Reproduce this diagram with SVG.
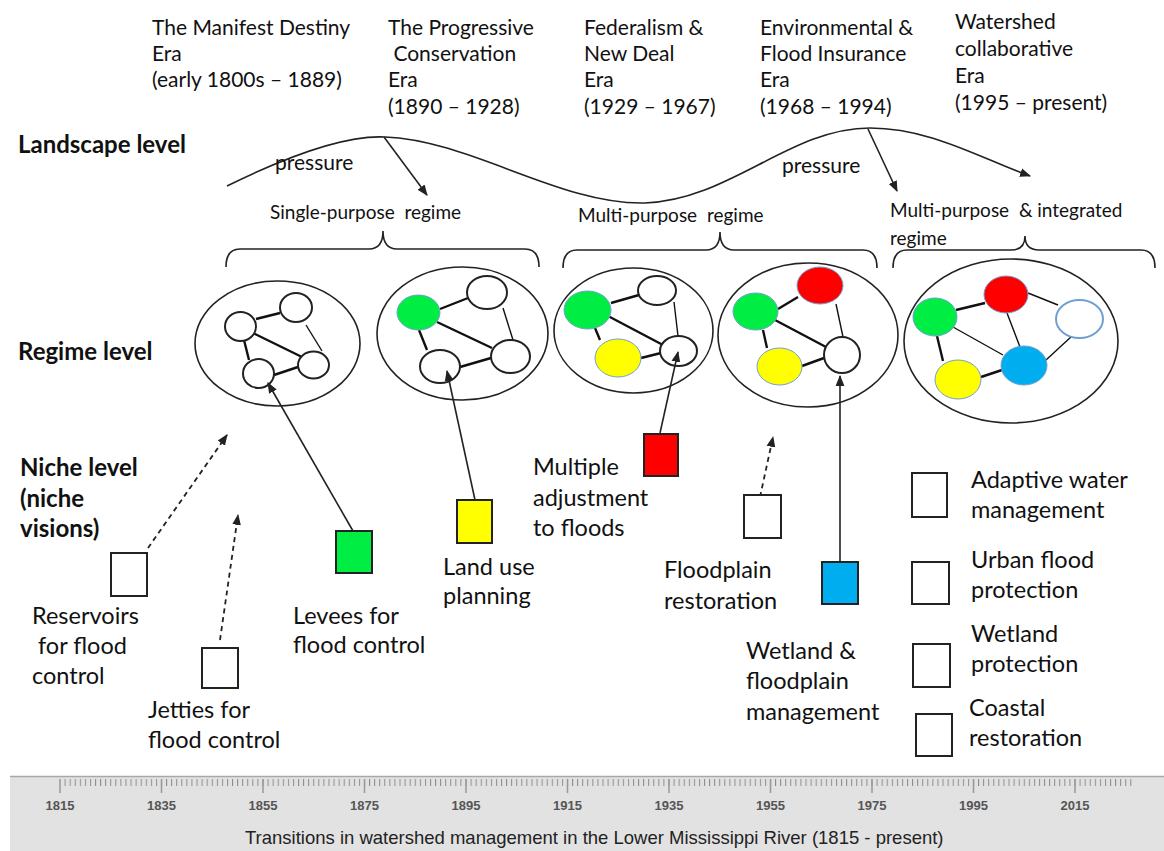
<svg xmlns="http://www.w3.org/2000/svg" width="1164" height="851" viewBox="0 0 1164 851">
<style>
.t{font-family:Lato,"Open Sans",sans-serif;font-size:21px;fill:#111}
.lv{font-family:Lato,"Open Sans",sans-serif;font-size:24px;font-weight:bold;fill:#111}
.nl{font-family:Lato,"Open Sans",sans-serif;font-size:23.5px;fill:#111}
.rg{font-family:Lato,"Open Sans",sans-serif;font-size:19px;fill:#111}
.el{fill:none;stroke:#222;stroke-width:1.6}
.cw{fill:#fff;stroke:#222;stroke-width:2}
.cc{stroke:#6f9fd0;stroke-width:1}
.ln{stroke:#111;stroke-width:2.4;fill:none}
.lt{stroke:#111;stroke-width:1.4;fill:none}
.bx{stroke:#222;stroke-width:2}
.ar{stroke:#222;stroke-width:1.6;fill:none}
.ds{stroke:#222;stroke-width:1.8;fill:none;stroke-dasharray:5 4}
.br{stroke:#222;stroke-width:1.6;fill:none}
.yr{font-family:"Liberation Sans",Arial,sans-serif;font-size:13px;font-weight:bold;fill:#555;text-anchor:middle}
</style>
<defs>
<marker id="ah" viewBox="0 0 10 10" refX="9" refY="5" markerWidth="11" markerHeight="11" markerUnits="userSpaceOnUse" orient="auto"><path d="M0,1 L10,5 L0,9 z" fill="#222"/></marker>
<pattern id="tk" x="59.5" y="0" width="5.075" height="20" patternUnits="userSpaceOnUse"><rect x="0" y="0" width="1" height="20" fill="#8c8c8c"/></pattern>
</defs>

<g id="eras">
<text class="t" x="152" y="35">The Manifest Destiny</text>
<text class="t" x="152" y="61">Era</text>
<text class="t" x="152" y="87">(early 1800s – 1889)</text>
<text class="t" x="388" y="35">The Progressive</text>
<text class="t" x="388" y="61">&#160;Conservation</text>
<text class="t" x="388" y="87">Era</text>
<text class="t" x="388" y="114">(1890 – 1928)</text>
<text class="t" x="584" y="35">Federalism &amp;</text>
<text class="t" x="584" y="61">New Deal</text>
<text class="t" x="584" y="87">Era</text>
<text class="t" x="584" y="114">(1929 – 1967)</text>
<text class="t" x="760" y="35">Environmental &amp;</text>
<text class="t" x="760" y="61">Flood Insurance</text>
<text class="t" x="760" y="87">Era</text>
<text class="t" x="760" y="114">(1968 – 1994)</text>
<text class="t" x="955" y="29">Watershed</text>
<text class="t" x="955" y="56">collaborative</text>
<text class="t" x="955" y="83">Era</text>
<text class="t" x="955" y="110">(1995 – present)</text>
</g>

<g id="levels">
<text class="lv" x="18" y="153">Landscape level</text>
<text class="lv" x="18" y="360">Regime level</text>
<text class="lv" x="20" y="476">Niche level</text>
<text class="lv" x="20" y="507">(niche</text>
<text class="lv" x="20" y="537">visions)</text>
</g>

<g id="landscape">
<path class="ar" d="M227,186 C290,155 345,135 385,137 C470,140 560,205 645,203 C730,200 790,128 870,128 C930,128 980,158 1030,176" marker-end="url(#ah)"/>
<text class="t" x="275" y="170">pressure</text>
<text class="t" x="782" y="173">pressure</text>
</g>

<g id="regime-labels">
<text class="rg" x="270" y="219">Single-purpose&#160; regime</text>
<text class="rg" x="578" y="222">Multi-purpose&#160; regime</text>
<text class="rg" x="890" y="217">Multi-purpose&#160; &amp; integrated</text>
<text class="rg" x="890" y="245">regime</text>
</g>

<g id="brackets">
<path class="br" d="M226,267 Q226,249 240,249 L369,249 Q383,249 383,231 Q383,249 397,249 L525,249 Q539,249 539,267"/>
<path class="br" d="M563,268 Q563,250 577,250 L706,250 Q720,250 720,232 Q720,250 734,250 L863,250 Q877,250 877,268"/>
<path class="br" d="M893,268 Q893,250 907,250 L1011,250 Q1025,250 1025,236 Q1025,250 1039,250 L1141,250 Q1155,250 1155,268"/>
</g>

<g id="regime1">
<ellipse class="el" cx="277.5" cy="343.5" rx="82.5" ry="62.5"/>
<path class="ln" d="M256,319 L280,313 M253,333 L302,357 M244,340 L249,360 M274,375 L298,367"/>
<path class="lt" d="M306,325 L322,351"/>
<ellipse class="cw" cx="240.5" cy="326.5" rx="15.5" ry="14.5"/>
<ellipse class="cw" cx="296" cy="307.5" rx="16" ry="14.5"/>
<ellipse class="cw" cx="258.5" cy="373.5" rx="15.5" ry="14.5"/>
<ellipse class="cw" cx="313.5" cy="365" rx="15.5" ry="13.5"/>
</g>

<g id="regime2">
<ellipse class="el" cx="462.5" cy="333.5" rx="85.5" ry="66.5"/>
<path class="ln" d="M440,309 L468,298 M437,322 L492,348 M419,330 L427,350 M460,367 L491,358"/>
<path class="lt" d="M503,308 L513,340"/>
<ellipse class="cc" fill="#00ee44" cx="418.5" cy="312.5" rx="21.5" ry="17.5"/>
<ellipse class="cw" cx="487" cy="292.5" rx="20" ry="16.5"/>
<ellipse class="cw" cx="510.5" cy="356.5" rx="19.5" ry="16.5"/>
<ellipse class="cw" cx="440" cy="366.5" rx="20" ry="16.5"/>
</g>

<g id="regime3">
<ellipse class="el" cx="633.5" cy="330.5" rx="79.5" ry="62.5"/>
<path class="ln" d="M611,303 L639,295 M608,316 L663,345 M595,328 L600,340 M641,358 L661,353"/>
<path class="lt" d="M674,302 L678,336"/>
<ellipse class="cc" fill="#00ee44" cx="587.5" cy="310" rx="23.5" ry="19"/>
<ellipse class="cw" cx="657" cy="290.5" rx="19" ry="14.5"/>
<ellipse class="cc" fill="#ffff00" cx="618" cy="358" rx="23" ry="19"/>
<ellipse class="cw" cx="678.5" cy="351" rx="18.5" ry="15"/>
</g>

<g id="regime4">
<ellipse class="el" cx="808" cy="335" rx="90" ry="72"/>
<path class="ln" d="M778,309 L798,297 M775,320 L826,347 M763,330 L767,348 M802,366 L824,358"/>
<path class="lt" d="M836,304 L843,337"/>
<ellipse class="cc" fill="#ff0000" cx="820" cy="285.5" rx="23" ry="18.5"/>
<ellipse class="cc" fill="#00ee44" cx="755.5" cy="311.5" rx="22.5" ry="18.5"/>
<ellipse class="cc" fill="#ffff00" cx="779.5" cy="366.5" rx="22.5" ry="18.5"/>
<ellipse class="cw" cx="842" cy="355" rx="18" ry="18"/>
</g>

<g id="regime5">
<ellipse class="el" cx="1011" cy="341" rx="107" ry="82"/>
<path class="ln" d="M956,310 L985,303 M937,336 L943,361 M981,377 L1002,370"/>
<path class="lt" d="M1028,293 L1058,305 M1007,313 L1020,347 M953,327 L1003,355 M1046,360 L1072,336"/>
<ellipse class="cc" fill="#ff0000" cx="1006" cy="294.5" rx="22" ry="18.5"/>
<ellipse class="cc" fill="#00ee44" cx="935" cy="317" rx="22" ry="19"/>
<ellipse fill="#fff" stroke="#6f9fd0" stroke-width="2" cx="1079.5" cy="319" rx="23.5" ry="19"/>
<ellipse class="cc" fill="#00aeef" cx="1024" cy="365.5" rx="23" ry="19.5"/>
<ellipse class="cc" fill="#ffff00" cx="958" cy="379.5" rx="23" ry="19.5"/>
</g>

<g id="connectors">
<path class="ar" d="M353,531 L268,383" marker-end="url(#ah)"/>
<path class="ar" d="M475,500 L447,371" marker-end="url(#ah)"/>
<path class="ar" d="M660,433 L678,352" marker-end="url(#ah)"/>
<path class="ar" d="M840,562 L840,376" marker-end="url(#ah)"/>
<path class="ar" d="M868,129 L897,191" marker-end="url(#ah)"/>
<path class="ar" d="M384,137 L427,195" marker-end="url(#ah)"/>
<path class="ds" d="M148,548 L227,435" marker-end="url(#ah)"/>
<path class="ds" d="M220,640 L238,515" marker-end="url(#ah)"/>
<path class="ds" d="M760,497 L773,437" marker-end="url(#ah)"/>
</g>

<g id="niche-reservoirs">
<rect class="bx" fill="#fff" x="111" y="553" width="36" height="43"/>
<text class="nl" x="32" y="624">Reservoirs</text>
<text class="nl" x="32" y="654">&#160;for flood</text>
<text class="nl" x="32" y="684">control</text>
</g>
<g id="niche-jetties">
<rect class="bx" fill="#fff" x="202" y="648" width="36" height="40"/>
<text class="nl" x="148" y="718">Jetties for</text>
<text class="nl" x="148" y="748">flood control</text>
</g>
<g id="niche-levees">
<rect class="bx" fill="#00ee44" x="336" y="531" width="36" height="42"/>
<text class="nl" x="293" y="624">Levees for</text>
<text class="nl" x="293" y="653">flood control</text>
</g>
<g id="niche-landuse">
<rect class="bx" fill="#ffff00" x="457" y="500" width="35" height="43"/>
<text class="nl" x="443" y="575">Land use</text>
<text class="nl" x="443" y="604">planning</text>
</g>
<g id="niche-multiple">
<rect class="bx" fill="#ff0000" x="644" y="434" width="34" height="42"/>
<text class="nl" x="533" y="475">Multiple</text>
<text class="nl" x="533" y="506">adjustment</text>
<text class="nl" x="533" y="536">to floods</text>
</g>
<g id="niche-floodplain">
<rect class="bx" fill="#fff" x="744" y="495" width="37" height="43"/>
<text class="nl" x="664" y="578">Floodplain</text>
<text class="nl" x="664" y="609">restoration</text>
</g>
<g id="niche-wetland">
<rect class="bx" fill="#00aeef" x="822" y="562" width="36" height="42"/>
<text class="nl" x="746" y="659">Wetland &amp;</text>
<text class="nl" x="746" y="689">floodplain</text>
<text class="nl" x="746" y="720">management</text>
</g>
<g id="niche-adaptive">
<rect class="bx" fill="#fff" x="912" y="473" width="35" height="44"/>
<text class="nl" x="971" y="488">Adaptive water</text>
<text class="nl" x="971" y="518">management</text>
</g>
<g id="niche-urban">
<rect class="bx" fill="#fff" x="912" y="562" width="37" height="42"/>
<text class="nl" x="971" y="568">Urban flood</text>
<text class="nl" x="971" y="598">protection</text>
</g>
<g id="niche-wetprot">
<rect class="bx" fill="#fff" x="913" y="644" width="37" height="43"/>
<text class="nl" x="971" y="642">Wetland</text>
<text class="nl" x="971" y="672">protection</text>
</g>
<g id="niche-coastal">
<rect class="bx" fill="#fff" x="916" y="714" width="36" height="42"/>
<text class="nl" x="969" y="716">Coastal</text>
<text class="nl" x="969" y="746">restoration</text>
</g>

<g id="timeline">
<rect x="10" y="776" width="1154" height="80" fill="#e2e2e2"/>
<line x1="10" y1="776.5" x2="1164" y2="776.5" stroke="#a8a8a8" stroke-width="1.5"/>
<rect x="62" y="779" width="1071" height="7" fill="url(#tk)"/>
<path d="M60,779 v14 M161.5,779 v14 M263,779 v14 M364.5,779 v14 M466,779 v14 M567.5,779 v14 M669,779 v14 M770.5,779 v14 M872,779 v14 M973.5,779 v14 M1075,779 v14" stroke="#999" stroke-width="1.5"/>
<text class="yr" x="60" y="810">1815</text>
<text class="yr" x="161.5" y="810">1835</text>
<text class="yr" x="263" y="810">1855</text>
<text class="yr" x="364.5" y="810">1875</text>
<text class="yr" x="466" y="810">1895</text>
<text class="yr" x="567.5" y="810">1915</text>
<text class="yr" x="669" y="810">1935</text>
<text class="yr" x="770.5" y="810">1955</text>
<text class="yr" x="872" y="810">1975</text>
<text class="yr" x="973.5" y="810">1995</text>
<text class="yr" x="1075" y="810">2015</text>
<text x="245" y="844" font-family="Liberation Sans,Arial,sans-serif" font-size="18.5" fill="#222">Transitions in watershed management in the Lower Mississippi River (1815 - present)</text>
</g>
</svg>
